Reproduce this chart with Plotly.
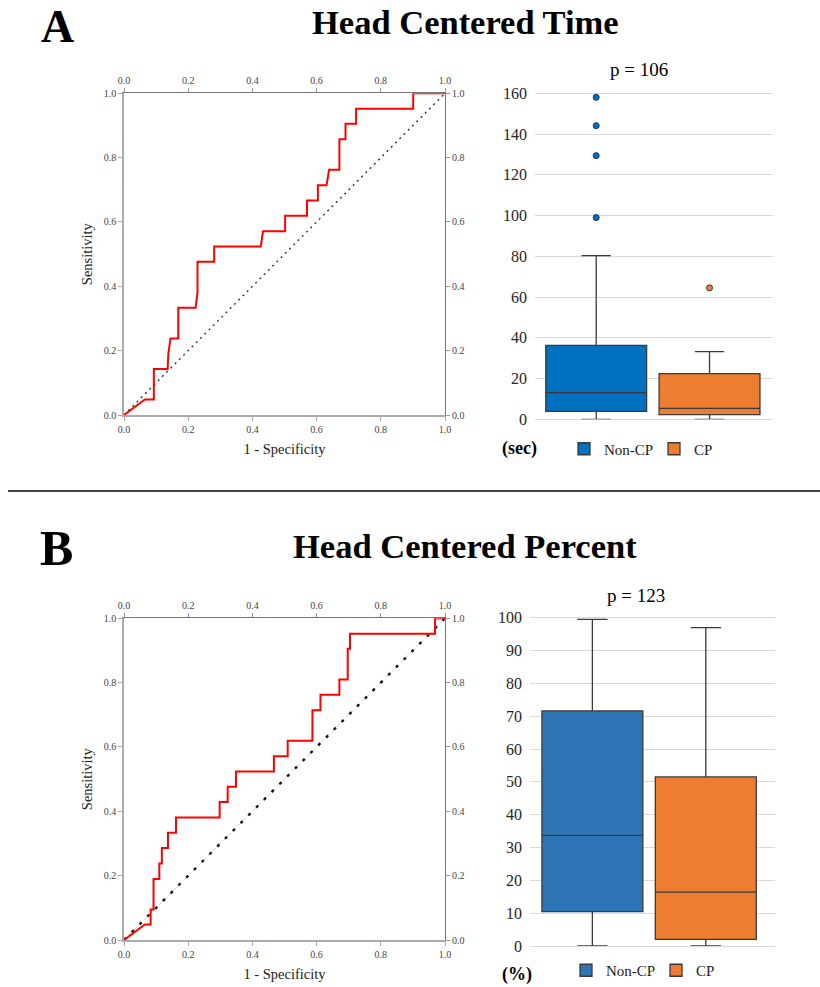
import plotly.graph_objects as go

W, H = 820, 987
SERIF = "Liberation Serif, Times New Roman, serif"

# ---------------- data ----------------
roc_a_fpr = [0, 0.065, 0.093, 0.093, 0.136, 0.138, 0.145, 0.169, 0.169, 0.223, 0.229, 0.229,
             0.281, 0.281, 0.426, 0.433, 0.502, 0.502, 0.570, 0.570, 0.604, 0.604, 0.631, 0.639,
             0.671, 0.671, 0.690, 0.690, 0.723, 0.723, 0.901, 0.901, 1.0]
roc_a_tpr = [0, 0.048, 0.048, 0.143, 0.143, 0.190, 0.238, 0.238, 0.333, 0.333, 0.381, 0.476,
             0.476, 0.524, 0.524, 0.571, 0.571, 0.619, 0.619, 0.667, 0.667, 0.714, 0.714, 0.762,
             0.762, 0.857, 0.857, 0.905, 0.905, 0.952, 0.952, 1.0, 1.0]

roc_b_fpr = [0, 0.065, 0.083, 0.083, 0.092, 0.092, 0.110, 0.110, 0.118, 0.118, 0.137, 0.137,
             0.162, 0.162, 0.298, 0.298, 0.323, 0.323, 0.349, 0.349, 0.467, 0.467, 0.510, 0.510,
             0.587, 0.587, 0.612, 0.612, 0.671, 0.671, 0.697, 0.697, 0.704, 0.704, 0.969, 0.969, 1.0]
roc_b_tpr = [0, 0.048, 0.048, 0.095, 0.095, 0.190, 0.190, 0.238, 0.238, 0.286, 0.286, 0.333,
             0.333, 0.381, 0.381, 0.429, 0.429, 0.476, 0.476, 0.524, 0.524, 0.571, 0.571, 0.619,
             0.619, 0.714, 0.714, 0.762, 0.762, 0.810, 0.810, 0.905, 0.905, 0.952, 0.952, 1.0, 1.0]

diag = [0, 1]
roc_ticks = [0, 0.2, 0.4, 0.6, 0.8, 1.0]

groups = ["Non-CP", "CP"]

# Head centered time (sec)
time_q1 = [3.9, 2.3]
time_median = [13.1, 5.4]
time_q3 = [36.3, 22.4]
time_low = [0, 0]
time_high = [80.3, 33.2]
time_out_noncp = [99.0, 129.4, 144.1, 158.0]
time_out_cp = [64.5]
time_ticks = [0, 20, 40, 60, 80, 100, 120, 140, 160]

# Head centered percent (%)
pct_q1 = [10.5, 2.0]
pct_median = [33.7, 16.4]
pct_q3 = [71.6, 51.5]
pct_low = [0, 0]
pct_high = [99.5, 97.0]
pct_ticks = [0, 10, 20, 30, 40, 50, 60, 70, 80, 90, 100]

# ---------------- helpers ----------------
def px_x(p):
    return p / W

def px_y(p):
    return 1 - p / H

fig = go.Figure()

RED = "#FF0000"

# ROC A
fig.add_trace(go.Scatter(x=diag, y=diag, mode="lines", xaxis="x", yaxis="y",
                         line=dict(color="#333333", width=1.4, dash="2px,4px"),
                         showlegend=False, hoverinfo="skip"))
fig.add_trace(go.Scatter(x=roc_a_fpr, y=roc_a_tpr, mode="lines", xaxis="x", yaxis="y",
                         line=dict(color=RED, width=2), showlegend=False))
fig.add_trace(go.Scatter(x=diag, y=diag, mode="lines", xaxis="x5", yaxis="y5",
                         line=dict(width=0), opacity=0, showlegend=False, hoverinfo="skip"))

# ROC B
fig.add_trace(go.Scatter(x=diag, y=diag, mode="lines", xaxis="x2", yaxis="y2",
                         line=dict(color="#d0d0d0", width=1, dash="4px,3px"),
                         showlegend=False, hoverinfo="skip"))
fig.add_trace(go.Scatter(x=diag, y=diag, mode="lines", xaxis="x2", yaxis="y2",
                         line=dict(color="#111111", width=2.4, dash="3px,8px"),
                         showlegend=False, hoverinfo="skip"))
fig.add_trace(go.Scatter(x=roc_b_fpr, y=roc_b_tpr, mode="lines", xaxis="x2", yaxis="y2",
                         line=dict(color=RED, width=2), showlegend=False))
fig.add_trace(go.Scatter(x=diag, y=diag, mode="lines", xaxis="x6", yaxis="y6",
                         line=dict(width=0), opacity=0, showlegend=False, hoverinfo="skip"))

BLUE_A = "#0070C0"
BLUE_B = "#2E75B6"
ORANGE = "#ED7D31"
EDGE = "#3a3a3a"

# Box A
for i, (g, col) in enumerate(zip(groups, [BLUE_A, ORANGE])):
    fig.add_trace(go.Box(x=[g], q1=[time_q1[i]], median=[time_median[i]], q3=[time_q3[i]],
                         lowerfence=[time_low[i]], upperfence=[time_high[i]],
                         name=g, fillcolor=col, line=dict(color=EDGE, width=1.3),
                         whiskerwidth=0.29, xaxis="x3", yaxis="y3", legend="legend",
                         boxpoints=False))
fig.add_trace(go.Scatter(x=["Non-CP"] * len(time_out_noncp), y=time_out_noncp, mode="markers",
                         marker=dict(color=BLUE_A, size=6, line=dict(color="#1f2f4f", width=1)),
                         xaxis="x3", yaxis="y3", showlegend=False))
fig.add_trace(go.Scatter(x=["CP"] * len(time_out_cp), y=time_out_cp, mode="markers",
                         marker=dict(color=ORANGE, size=6, line=dict(color="#3a3a3a", width=1)),
                         xaxis="x3", yaxis="y3", showlegend=False))

# Box B
for i, (g, col) in enumerate(zip(groups, [BLUE_B, ORANGE])):
    fig.add_trace(go.Box(x=[g], q1=[pct_q1[i]], median=[pct_median[i]], q3=[pct_q3[i]],
                         lowerfence=[pct_low[i]], upperfence=[pct_high[i]],
                         name=g, fillcolor=col, line=dict(color=EDGE, width=1.3),
                         whiskerwidth=0.3, xaxis="x4", yaxis="y4", legend="legend2",
                         boxpoints=False))

# ---------------- axes ----------------
tickfont_roc = dict(family=SERIF, size=10, color="#444444")
title_font_roc = dict(family=SERIF, size=14.5, color="#222222")

def roc_axes(xname, yname, xo, yo, xdom, ydom):
    base = dict(range=[0, 1], tickvals=roc_ticks, tickformat=".1f", ticks="outside",
                ticklen=4, showline=True, showgrid=False, zeroline=False,
                tickfont=tickfont_roc, fixedrange=True, automargin=False)
    fig.layout[xname] = dict(base, domain=xdom, anchor=yname.replace("axis", ""),
                             linecolor="#aaaaaa", tickcolor="#aaaaaa", linewidth=1.5,
                             title=dict(text="1 - Specificity", font=title_font_roc, standoff=10))
    fig.layout[yname] = dict(base, domain=ydom, anchor=xname.replace("axis", ""),
                             linecolor="#aaaaaa", tickcolor="#aaaaaa", linewidth=1.5,
                             title=dict(text="Sensitivity", font=title_font_roc, standoff=8))
    fig.layout[xo] = dict(base, overlaying=xname.replace("axis", ""), side="top",
                          anchor=yname.replace("axis", ""),
                          linecolor="#777777", tickcolor="#999999", linewidth=1.2)
    fig.layout[yo] = dict(base, overlaying=yname.replace("axis", ""), side="right",
                          anchor=xname.replace("axis", ""),
                          linecolor="#777777", tickcolor="#999999", linewidth=1.2)

roc_axes("xaxis", "yaxis", "xaxis5", "yaxis5",
         [px_x(124), px_x(445)], [px_y(415), px_y(93.3)])
roc_axes("xaxis2", "yaxis2", "xaxis6", "yaxis6",
         [px_x(124), px_x(445)], [px_y(940), px_y(618.3)])

box_tickfont = dict(family=SERIF, size=16, color="#262626")

fig.layout.xaxis3 = dict(domain=[px_x(535), px_x(773)], anchor="y3", type="category",
                         range=[-0.54, 1.56], showticklabels=False, showgrid=False,
                         zeroline=False, showline=False, fixedrange=True, automargin=False)
fig.layout.yaxis3 = dict(domain=[px_y(419.3), px_y(89.2)], anchor="x3", range=[0, 162],
                         tickvals=time_ticks, showgrid=True, gridcolor="#d9d9d9",
                         zeroline=True, zerolinecolor="#d9d9d9", zerolinewidth=1,
                         showline=False, tickfont=box_tickfont, ticklabelstandoff=7,
                         fixedrange=True, automargin=False)
fig.layout.xaxis4 = dict(domain=[px_x(530), px_x(775)], anchor="y4", type="category",
                         range=[-0.55, 1.61], showticklabels=False, showgrid=False,
                         zeroline=False, showline=False, fixedrange=True, automargin=False)
fig.layout.yaxis4 = dict(domain=[px_y(946), px_y(614.4)], anchor="x4", range=[0, 101],
                         tickvals=pct_ticks, showgrid=True, gridcolor="#d9d9d9",
                         zeroline=True, zerolinecolor="#d9d9d9", zerolinewidth=1,
                         showline=False, tickfont=box_tickfont, ticklabelstandoff=7,
                         fixedrange=True, automargin=False)

legend_font = dict(family=SERIF, size=15, color="#222222")
fig.update_layout(
    width=W, height=H,
    margin=dict(l=0, r=0, t=0, b=0),
    paper_bgcolor="white", plot_bgcolor="white",
    boxmode="overlay", boxgap=0.11, boxgroupgap=0,
    font=dict(family=SERIF, color="#222222"),
    legend=dict(orientation="h", x=px_x(564), y=px_y(449), xanchor="left", yanchor="middle",
                font=legend_font, itemwidth=30, entrywidth=45, bgcolor="rgba(0,0,0,0)",
                tracegroupgap=0, itemclick=False),
    legend2=dict(orientation="h", x=px_x(566), y=0, xanchor="left", yanchor="bottom",
                 font=legend_font, itemwidth=30, entrywidth=45, bgcolor="rgba(0,0,0,0)",
                 tracegroupgap=0, itemclick=False),
)

# ---------------- annotations ----------------
def ann(text, x, y, size, bold=False, xanchor="center", yanchor="middle"):
    t = f"<b>{text}</b>" if bold else text
    fig.add_annotation(text=t, x=px_x(x), y=px_y(y), xref="paper", yref="paper",
                       showarrow=False, xanchor=xanchor, yanchor=yanchor, borderpad=0,
                       font=dict(family=SERIF, size=size, color="#000000"))

ann("A", 57, 0.5, 46, bold=True, yanchor="top")
ann("Head Centered Time", 466, 22, 34.5, bold=True)
ann("B", 56, 548, 50, bold=True)
ann("Head Centered Percent", 465, 546, 34.5, bold=True)
ann("p = 106", 639, 70, 19)
ann("p = 123", 636, 595, 19)
ann("(sec)", 519, 449, 18, bold=True)
ann("(%)", 517, 974, 18, bold=True)

fig.add_shape(type="line", xref="paper", yref="paper",
              x0=px_x(8), x1=1, y0=px_y(491), y1=px_y(491),
              line=dict(color="#444444", width=2))

fig.write_html("out.html")
